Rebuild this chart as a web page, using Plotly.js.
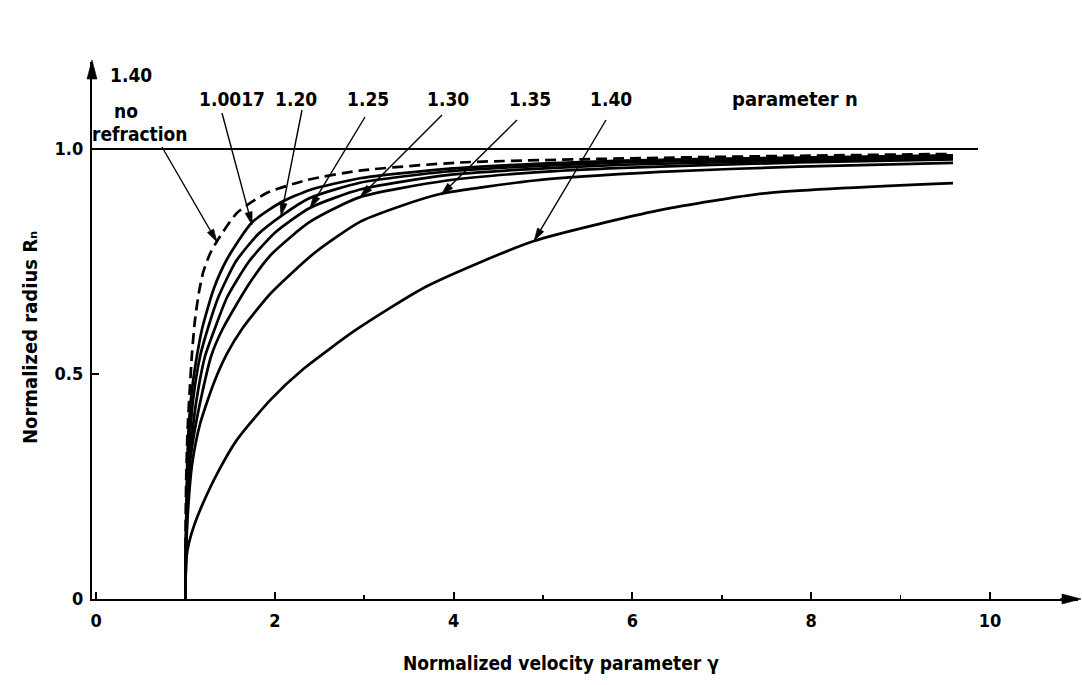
<!DOCTYPE html>
<html><head><meta charset="utf-8">
<script src="https://cdn.plot.ly/plotly-3.0.1.min.js"></script>
<style>html,body{margin:0;padding:0;background:#fff}#chart{width:1082px;height:685px}</style>
</head><body><div id="chart"></div>
<script>
// ---- data ----
const gammaNoRefraction = [1,1.001,1.004,1.01,1.025,1.05,1.075,1.107,1.15,1.197,1.27,1.353,1.577,1.908,2.361,2.952,4.074,5.895,7.863,9.586];
const radiusNoRefraction = [0,0.1,0.2,0.28,0.38,0.47,0.55,0.62,0.68,0.725,0.765,0.795,0.858,0.902,0.931,0.952,0.97,0.979,0.985,0.989];

const gammaN10017 = [1,1.003,1.01,1.02,1.035,1.07,1.12,1.186,1.318,1.465,1.741,2.056,2.391,2.952,3.926,4.91,5.895,7.863,9.586];
const radiusN10017 = [0,0.1,0.2,0.3,0.376,0.46,0.53,0.6,0.69,0.755,0.836,0.88,0.909,0.935,0.956,0.967,0.974,0.981,0.986];

const gammaN120 = [1,1.004,1.013,1.03,1.055,1.09,1.165,1.249,1.367,1.564,1.81,2.085,2.391,2.952,3.926,4.91,5.895,7.863,9.586];
const radiusN120 = [0,0.1,0.2,0.3,0.376,0.45,0.54,0.6,0.67,0.75,0.81,0.853,0.891,0.925,0.95,0.962,0.97,0.978,0.983];

const gammaN125 = [1,1.005,1.017,1.04,1.08,1.13,1.22,1.327,1.465,1.711,2.007,2.391,2.952,3.926,4.91,5.895,7.863,9.586];
const radiusN125 = [0,0.1,0.2,0.3,0.376,0.45,0.54,0.6,0.67,0.75,0.815,0.869,0.91,0.942,0.956,0.965,0.974,0.98];

const gammaN130 = [1,1.006,1.022,1.05,1.105,1.19,1.288,1.416,1.711,1.957,2.391,2.952,3.926,4.91,5.895,7.863,9.586];
const radiusN130 = [0,0.1,0.2,0.3,0.376,0.46,0.54,0.6,0.7,0.765,0.838,0.893,0.93,0.948,0.958,0.97,0.977];

const gammaN135 = [1,1.007,1.03,1.075,1.165,1.318,1.465,1.633,1.957,2.45,2.952,3.434,3.847,4.91,6.308,7.863,9.586];
const radiusN135 = [0,0.1,0.2,0.3,0.39,0.48,0.545,0.6,0.68,0.77,0.838,0.875,0.9,0.93,0.949,0.961,0.969];

const gammaN140 = [1,1.002,1.01,1.04,1.1,1.197,1.367,1.574,1.948,2.312,2.922,3.7,4.891,6.308,7.509,9.586];
const radiusN140 = [0,0.05,0.09,0.125,0.165,0.213,0.283,0.353,0.442,0.51,0.6,0.695,0.795,0.864,0.902,0.924];

const xTickVals = [0,2,4,6,8,10];
const xTickText = ['0','2','4','6','8','10'];
const yTickVals = [0,0.5,1.0];
const yTickText = ['0','0.5','1.0'];

const curveLabels = ['1.0017','1.20','1.25','1.30','1.35','1.40'];
const noRefrLabel = ['1.40','no','refraction'];
const paramLabel = 'parameter n';
const xTitle = 'Normalized velocity parameter γ';
const yTitle = 'Normalized radius Rₙ';

// ---- layout helpers (pixel <-> axis / paper) ----
const FONT = 'DejaVu Sans Condensed, DejaVu Sans, sans-serif';
const X0 = -0.045, X1 = 10.984, Y0 = 0, Y1 = 1.1933;
const px2x = p => (p - 96) / 89.4;
const px2paper = p => (p - 92) / 986;
const py2paper = p => (599 - p) / 537;

function curve(x, y, dash) {
  return {x: x, y: y, type: 'scatter', mode: 'lines', hoverinfo: 'skip',
    line: {color: '#000', width: 2.7, shape: 'spline', smoothing: 0.6, dash: dash || 'solid'}};
}
const traces = [
  curve(gammaNoRefraction, radiusNoRefraction, '11px,6px'),
  curve(gammaN10017, radiusN10017),
  curve(gammaN120, radiusN120),
  curve(gammaN125, radiusN125),
  curve(gammaN130, radiusN130),
  curve(gammaN135, radiusN135),
  curve(gammaN140, radiusN140)
];

const ann = [];
function txt(text, px, py, size, extra) {
  ann.push(Object.assign({text: text, x: px2paper(px), y: py2paper(py), xref: 'paper', yref: 'paper',
    xanchor: 'center', yanchor: 'middle',
    showarrow: false, font: {family: FONT, size: size || 19, color: '#000', weight: 'bold'}}, extra || {}));
}
const shapes = [];
function P(x, y) { return px2paper(x).toFixed(5) + ',' + py2paper(y).toFixed(5); }
function arrow(tx, ty, hx, hy, L, W, lw) {
  L = L || 13; W = W || 3.6; lw = lw || 1.4;
  const dx = hx - tx, dy = hy - ty, d = Math.hypot(dx, dy);
  const ux = dx / d, uy = dy / d, bx = hx - ux * L, by = hy - uy * L;
  const qx = -uy * W, qy = ux * W;
  if (d > L + 1) {
    shapes.push({type: 'line', xref: 'paper', yref: 'paper', x0: px2paper(tx), y0: py2paper(ty),
      x1: px2paper(bx + ux * 2), y1: py2paper(by + uy * 2), line: {color: '#000', width: lw}});
  }
  shapes.push({type: 'path', xref: 'paper', yref: 'paper',
    path: 'M' + P(hx, hy) + ' L' + P(bx + qx, by + qy) + ' L' + P(bx - qx, by - qy) + ' Z',
    fillcolor: '#000', line: {color: '#000', width: 0.6}});
}
// labels
txt(noRefrLabel[0], 131, 75);
txt(noRefrLabel[1], 126, 111);
txt(noRefrLabel[2], 140, 134);
const labelPx = [232, 296, 368, 448, 530, 611];
curveLabels.forEach((l, i) => txt(l, labelPx[i], 99));
txt(paramLabel, 795, 99, 20);
// axis titles
txt(xTitle, 561, 663, 19);
txt(yTitle, 30, 338, 20, {textangle: -90});
// arrows
arrow(162, 147, 217, 242);
arrow(222, 113, 252, 225);
arrow(302, 110, 281, 216);
arrow(365, 117, 310, 208);
arrow(442, 115, 360, 197);
arrow(517, 120, 441, 195);
arrow(606, 120, 534, 241);
// axis arrowheads
arrow(1060, 599, 1081, 599, 19, 5);
arrow(92, 80, 92, 60, 19, 5);

shapes.push({type: 'line', xref: 'x', yref: 'y', x0: X0, x1: px2x(978), y0: 1, y1: 1,
  line: {color: '#000', width: 1.8}});

const tickFont = {family: FONT, size: 18, color: '#000', weight: 'bold'};
const layout = {
  width: 1082, height: 685,
  margin: {l: 92, r: 4, t: 62, b: 86, pad: 0},
  paper_bgcolor: '#fff', plot_bgcolor: '#fff',
  showlegend: false,
  font: {family: FONT, size: 18, color: '#000'},
  xaxis: {range: [X0, X1], showgrid: false, zeroline: false, showline: true, linewidth: 2.2, linecolor: '#000',
    tickvals: xTickVals, ticktext: xTickText, ticks: 'inside', ticklen: 7, tickwidth: 2, tickcolor: '#000',
    ticklabelstandoff: 4, tickfont: tickFont,
    minor: {dtick: 1, tick0: 0, ticks: 'inside', ticklen: 4, tickwidth: 1.5, tickcolor: '#000', showgrid: false}},
  yaxis: {range: [Y0, Y1], showgrid: false, zeroline: false, showline: true, linewidth: 2.2, linecolor: '#000',
    tickvals: yTickVals, ticktext: yTickText, ticks: 'inside', ticklen: 7, tickwidth: 2, tickcolor: '#000',
    ticklabelstandoff: 3, tickfont: tickFont},
  shapes: shapes,
  annotations: ann
};
Plotly.newPlot('chart', traces, layout, {staticPlot: true, displayModeBar: false});
</script></body></html>
